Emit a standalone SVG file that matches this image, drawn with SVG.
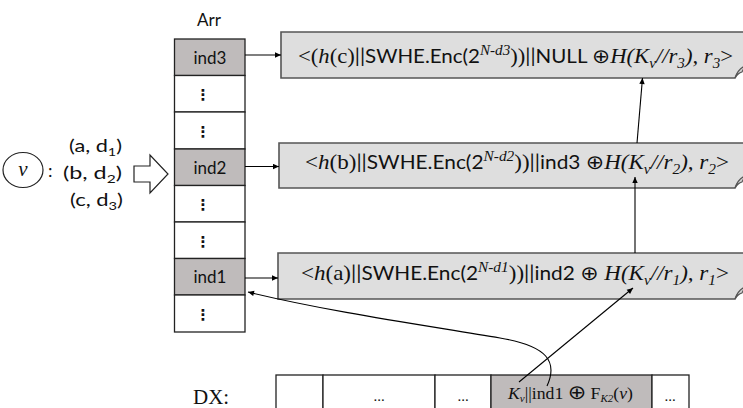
<svg xmlns="http://www.w3.org/2000/svg" width="743" height="408" viewBox="0 0 743 408">
<defs>
<style>
.sans{font-family:Lato,"Liberation Sans",sans-serif;fill:#111}
.ser{font-family:"Liberation Serif",serif;fill:#111}
.it{font-style:italic}
.sym{font-family:"DejaVu Sans",sans-serif;font-style:normal}
.cell{fill:#fff;stroke:#222;stroke-width:1.3}
.shade{fill:#bfbbbb}
.rec{fill:#dedede;stroke:#555;stroke-width:1.6}
.curl{fill:#cfcfcf;stroke:#555;stroke-width:1.2}
.conn{stroke:#000;stroke-width:1.1;fill:none}
.dots{font-family:"DejaVu Sans",sans-serif;font-weight:bold;font-size:15px;fill:#111;text-anchor:middle}
.lab{text-anchor:middle;font-size:17px}
</style>
<marker id="ah" viewBox="0 0 10 10" refX="10" refY="5" markerWidth="8" markerHeight="6" orient="auto" markerUnits="userSpaceOnUse">
<path d="M0,0.5 L10,5 L0,9.5 Z" fill="#000"/>
</marker>
</defs>
<rect width="743" height="408" fill="#fff"/>

<g id="v-node">
<ellipse cx="23" cy="170" rx="20" ry="17.5" fill="#fff" stroke="#222" stroke-width="1.2"/>
<text x="23" y="176" class="ser it" font-size="21" text-anchor="middle">v</text>
<text x="48" y="177" class="sans" font-size="18">:</text>
<text x="69" y="152" class="sans" font-size="18" textLength="53" lengthAdjust="spacingAndGlyphs">(a, d<tspan font-size="12" dy="4">1</tspan><tspan dy="-4">)</tspan></text>
<text x="63" y="179" class="sans" font-size="18" textLength="59" lengthAdjust="spacingAndGlyphs">(b, d<tspan font-size="12" dy="4">2</tspan><tspan dy="-4">)</tspan></text>
<text x="70" y="206" class="sans" font-size="18" textLength="53" lengthAdjust="spacingAndGlyphs">(c, d<tspan font-size="12" dy="4">3</tspan><tspan dy="-4">)</tspan></text>
</g>

<g id="arr">
<text x="209" y="26" class="sans lab">Arr</text>
<rect class="cell shade" x="174.5" y="39" width="70.5" height="36.5"/>
<rect class="cell" x="174.5" y="75.5" width="70.5" height="36.5"/>
<rect class="cell" x="174.5" y="112" width="70.5" height="37"/>
<rect class="cell shade" x="174.5" y="149" width="70.5" height="36.5"/>
<rect class="cell" x="174.5" y="185.5" width="70.5" height="36.5"/>
<rect class="cell" x="174.5" y="222" width="70.5" height="36.5"/>
<rect class="cell shade" x="174.5" y="258.5" width="70.5" height="36.5"/>
<rect class="cell" x="174.5" y="295" width="70.5" height="37"/>
<text x="210" y="63.5" class="sans lab">ind3</text>
<text x="203" y="100" class="dots">⋮</text>
<text x="203" y="137" class="dots">⋮</text>
<text x="210" y="173.5" class="sans lab">ind2</text>
<text x="203" y="210" class="dots">⋮</text>
<text x="203" y="247" class="dots">⋮</text>
<text x="210" y="283" class="sans lab">ind1</text>
<text x="203" y="320" class="dots">⋮</text>
</g>

<g id="rec3">
<path class="rec" d="M281,32 H752 V66 Q740,67 735,78 H281 Z"/>
<path class="curl" d="M735,78 Q738,69 745,66 L742,72 Q738,73 735,78 Z"/>
<text x="298" y="63" class="ser" font-size="21" textLength="435" lengthAdjust="spacingAndGlyphs">&lt;(<tspan class="it">h</tspan>(c)<tspan class="sans" font-size="19">||SWHE.Enc(2</tspan><tspan class="it" font-size="14" dy="-8">N-d3</tspan><tspan dy="8">))</tspan><tspan class="sans" font-size="19">||NULL </tspan><tspan class="sym" font-size="20">⊕</tspan><tspan class="it">H(K</tspan><tspan class="it" font-size="14" dy="5">v</tspan><tspan class="it" dy="-5">//r</tspan><tspan class="it" font-size="14" dy="5">3</tspan><tspan class="it" dy="-5">), r</tspan><tspan class="it" font-size="14" dy="5">3</tspan><tspan dy="-5">&gt;</tspan></text>
</g>

<g id="rec2">
<path class="rec" d="M279,143 H752 V176 Q740,177 735,188 H279 Z"/>
<path class="curl" d="M735,188 Q738,179 745,176 L742,182 Q738,183 735,188 Z"/>
<text x="305" y="169" class="ser" font-size="21" textLength="424" lengthAdjust="spacingAndGlyphs">&lt;<tspan class="it">h</tspan>(b)<tspan class="sans" font-size="19">||SWHE.Enc(2</tspan><tspan class="it" font-size="14" dy="-8">N-d2</tspan><tspan dy="8">))</tspan><tspan class="sans" font-size="19">||ind3 </tspan><tspan class="sym" font-size="20">⊕</tspan><tspan class="it">H(K</tspan><tspan class="it" font-size="14" dy="5">v</tspan><tspan class="it" dy="-5">//r</tspan><tspan class="it" font-size="14" dy="5">2</tspan><tspan class="it" dy="-5">), r</tspan><tspan class="it" font-size="14" dy="5">2</tspan><tspan dy="-5">&gt;</tspan></text>
</g>

<g id="rec1">
<path class="rec" d="M278,253 H752 V287 Q740,288 735,299 H278 Z"/>
<path class="curl" d="M735,299 Q738,290 745,287 L742,293 Q738,294 735,299 Z"/>
<text x="301" y="280" class="ser" font-size="21" textLength="428" lengthAdjust="spacingAndGlyphs">&lt;<tspan class="it">h</tspan>(a)<tspan class="sans" font-size="19">||SWHE.Enc(2</tspan><tspan class="it" font-size="14" dy="-8">N-d1</tspan><tspan dy="8">))</tspan><tspan class="sans" font-size="19">||ind2 </tspan><tspan class="sym" font-size="20">⊕</tspan><tspan class="it"> H(K</tspan><tspan class="it" font-size="14" dy="5">v</tspan><tspan class="it" dy="-5">//r</tspan><tspan class="it" font-size="14" dy="5">1</tspan><tspan class="it" dy="-5">), r</tspan><tspan class="it" font-size="14" dy="5">1</tspan><tspan dy="-5">&gt;</tspan></text>
</g>

<g id="dx">
<text x="193" y="404" class="ser" font-size="21">DX:</text>
<rect class="cell" x="276" y="375" width="47" height="45"/>
<rect class="cell" x="323" y="375" width="112" height="45"/>
<rect class="cell" x="435" y="375" width="56" height="45"/>
<rect class="cell shade" x="491" y="375" width="161" height="45"/>
<rect class="cell" x="652" y="375" width="37" height="45"/>
<text x="379" y="401" class="ser" font-size="15" text-anchor="middle">...</text>
<text x="463" y="401" class="ser" font-size="15" text-anchor="middle">...</text>
<text x="670" y="401" class="ser" font-size="15" text-anchor="middle">...</text>
<text x="508" y="399" class="ser" font-size="16" textLength="125" lengthAdjust="spacingAndGlyphs"><tspan class="it">K</tspan><tspan class="it" font-size="10" dy="3">v</tspan><tspan dy="-3">||ind1 </tspan><tspan class="sym" font-size="20">⊕</tspan> F<tspan class="it" font-size="10" dy="3">K2</tspan><tspan dy="-3">(</tspan><tspan class="it">v</tspan>)</text>
</g>

<g id="connectors">
<path d="M134,166 H150 V155 L168,174 L150,193 V182 H134 Z" fill="#fff" stroke="#222" stroke-width="1.2"/>
<path class="conn" marker-end="url(#ah)" d="M245,55 H281"/>
<path class="conn" marker-end="url(#ah)" d="M245,166.5 H279"/>
<path class="conn" marker-end="url(#ah)" d="M245,278 H278"/>
<path class="conn" marker-end="url(#ah)" d="M635,253 V177"/>
<path class="conn" marker-end="url(#ah)" d="M637,143 L642.5,78"/>
<path class="conn" marker-end="url(#ah)" d="M519,382 L633,288"/>
<path class="conn" marker-end="url(#ah)" d="M547,386 C558,362 548,346 500,338 C430,326 330,312 248,292"/>
</g>
</svg>
